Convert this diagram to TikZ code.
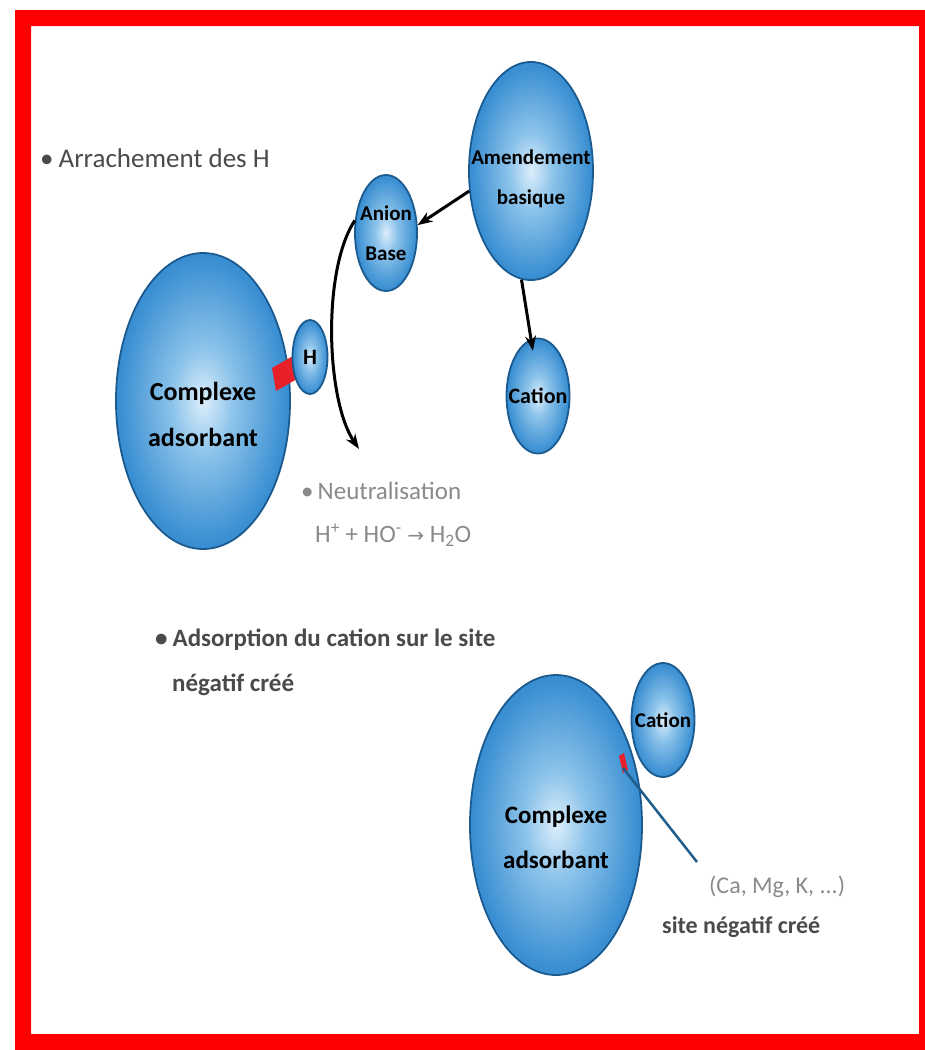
\documentclass[tikz,border=0pt]{standalone}
\usepackage{fontspec}
\setmainfont{Carlito}
\newfontfamily\dvs{DejaVu Sans}
\usetikzlibrary{arrows.meta,shapes.geometric}
\definecolor{framered}{HTML}{FF0000}
\definecolor{blA}{HTML}{DCEEFB}
\definecolor{blB}{HTML}{8CC3EA}
\definecolor{blC}{HTML}{3A8FD2}
\definecolor{blD}{HTML}{2677BD}
\definecolor{blEdge}{HTML}{1B5A8F}
\definecolor{darktxt}{HTML}{4A4A4A}
\definecolor{lighttxt}{HTML}{8A8A8A}
\definecolor{linkred}{HTML}{E8202A}
\definecolor{siteblue}{HTML}{1F5D8C}
\pgfdeclareradialshading{bubble}{\pgfpoint{0bp}{0bp}}{color(0bp)=(blA); color(9bp)=(blB); color(24bp)=(blC); color(50bp)=(blD)}
\newcommand{\zb}[1]{\makebox[0pt]{#1}}
\tikzset{
  ball/.style={ellipse, shading=bubble, draw=blEdge, line width=1.8pt, inner sep=0pt, align=center, font=\bfseries\color{black}},
  arr/.style={line width=3pt, -{Stealth[length=15pt,width=11pt]}},
  lbl/.style={anchor=west, inner sep=0pt, align=left}
}
\begin{document}
\begin{tikzpicture}[x=1pt,y=-1pt]
\useasboundingbox (0,0) rectangle (925,1050);
% frame
\fill[framered,even odd rule] (15,10) rectangle (925,1050) (31,26) rectangle (919,1034);
% top group
\node[ball, minimum width=174pt, minimum height=296pt, font=\bfseries\fontsize{26}{46}\selectfont] (cplx1) at (203,401) {\zb{\rule{0pt}{46pt}Complexe}\\\zb{adsorbant}};
\fill[linkred] (272,368) -- (293,356) -- (297,379) -- (276,391) -- cycle;
\node[ball, minimum width=35pt, minimum height=74pt, font=\bfseries\fontsize{22}{26}\selectfont] (hion) at (310,357) {\zb{H}};
\node[ball, minimum width=124pt, minimum height=218pt, font=\bfseries\fontsize{21}{40}\selectfont] (amend) at (531,171) {\zb{\rule{0pt}{31pt}Amendement}\\\zb{basique}};
\node[ball, minimum width=62pt, minimum height=116pt, font=\bfseries\fontsize{21}{40}\selectfont] (anion) at (386,233) {\zb{Anion}\\\zb{Base}};
\node[ball, minimum width=63pt, minimum height=115pt, font=\bfseries\fontsize{22}{26}\selectfont] (cat1) at (538,396) {\zb{Cation}};
\coordinate (neut) at (359,449);
\draw[arr] (amend.198) -- (anion.14);
\draw[arr, shorten >=-12pt] (amend.265) -- (cat1.97);
\draw[arr] (anion.158) .. controls (322,270) and (326,400) .. (neut);
% texts
\node[lbl, text=darktxt, font=\fontsize{27}{30}\selectfont] (t1) at (40,158) {•\hspace{5pt}Arrachement des H};
\node[lbl, text=lighttxt, font=\fontsize{25}{43}\selectfont] (t2) at (301,514) {•\hspace{4pt}Neutralisation\\\hspace{14pt}H\textsuperscript{+} + HO\textsuperscript{-} {\dvs\fontsize{20}{20}\selectfont →} H\textsubscript{2}O};
\node[lbl, text=darktxt, font=\bfseries\fontsize{25}{45}\selectfont] (t3) at (155,662) {•\hspace{5pt}Adsorption du cation sur le site\\\hspace{17pt}négatif créé};
% bottom group
\node[ball, minimum width=172pt, minimum height=300pt, font=\bfseries\fontsize{25}{45}\selectfont] (cplx2) at (556,825) {\zb{\rule{0pt}{42pt}Complexe}\\\zb{adsorbant}};
\node[ball, minimum width=63pt, minimum height=114pt, font=\bfseries\fontsize{21}{26}\selectfont] (cat2) at (663,720) {\zb{Cation}};
\fill[linkred] (619,756) -- (624,753) -- (628,770) -- (623,773) -- cycle;
\coordinate (site) at (623,768);
\node[lbl, text=lighttxt, font=\fontsize{24}{28}\selectfont] (t4) at (709,887) {(Ca, Mg, K, ...)};
\node[lbl, text=darktxt, font=\bfseries\fontsize{24}{28}\selectfont] (t5) at (662,927) {site négatif créé};
\draw[siteblue, line width=2.5pt] (site) -- (697,862);
\end{tikzpicture}
\end{document}
